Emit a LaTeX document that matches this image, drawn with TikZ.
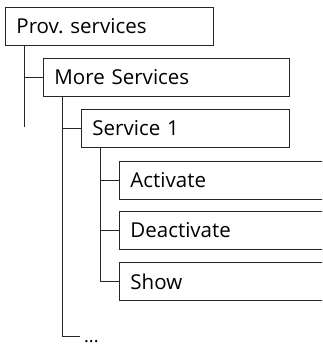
\documentclass[tikz,border=0pt]{standalone}
\usepackage{fontspec}
\setmainfont{Open Sans}
\usetikzlibrary{positioning}
\tikzset{
  menubox/.style={draw=black!85, line width=0.9pt, fill=white, anchor=north west,
    minimum height=38pt, inner xsep=11pt, inner ysep=0pt, text width=#1, align=left,
    font=\fontsize{20.5}{24}\selectfont},
  tree/.style={draw=black!85, line width=0.9pt},
}
\begin{document}
\begin{tikzpicture}[x=1pt,y=-1pt]
\useasboundingbox (0,0) rectangle (322,346);
\clip (0,0) rectangle (322,346);
% menu entries
\node[menubox=186pt] (prov) at (5,7) {Prov.\ services};
\node[menubox=224pt] (more) at (43,58) {More Services};
\node[menubox=186pt] (svc) at (81,109) {Service 1};
\node[menubox=186pt] (act) at (119,161) {Activate};
\node[menubox=186pt] (deact) at (119,211) {Deactivate};
\node[menubox=186pt] (show) at (119,262) {Show};
\node[anchor=base west, inner sep=0pt, font=\fontsize{18}{22}\selectfont] (dots) at (84,342) {...};
% free ends of the tree lines
\coordinate (provend) at (24,127);
\coordinate (dotsend) at (80,336);
% tree lines
\draw[tree] ([xshift=19pt]prov.south west) -- (provend);
\draw[tree] ([xshift=19pt]prov.south west |- more.west) -- (more.west);
\draw[tree] ([xshift=19pt]more.south west) |- (dotsend);
\draw[tree] ([xshift=19pt]more.south west |- svc.west) -- (svc.west);
\draw[tree] ([xshift=19pt]svc.south west) |- (show.west);
\draw[tree] ([xshift=19pt]svc.south west |- act.west) -- (act.west);
\draw[tree] ([xshift=19pt]svc.south west |- deact.west) -- (deact.west);
\end{tikzpicture}
\end{document}
